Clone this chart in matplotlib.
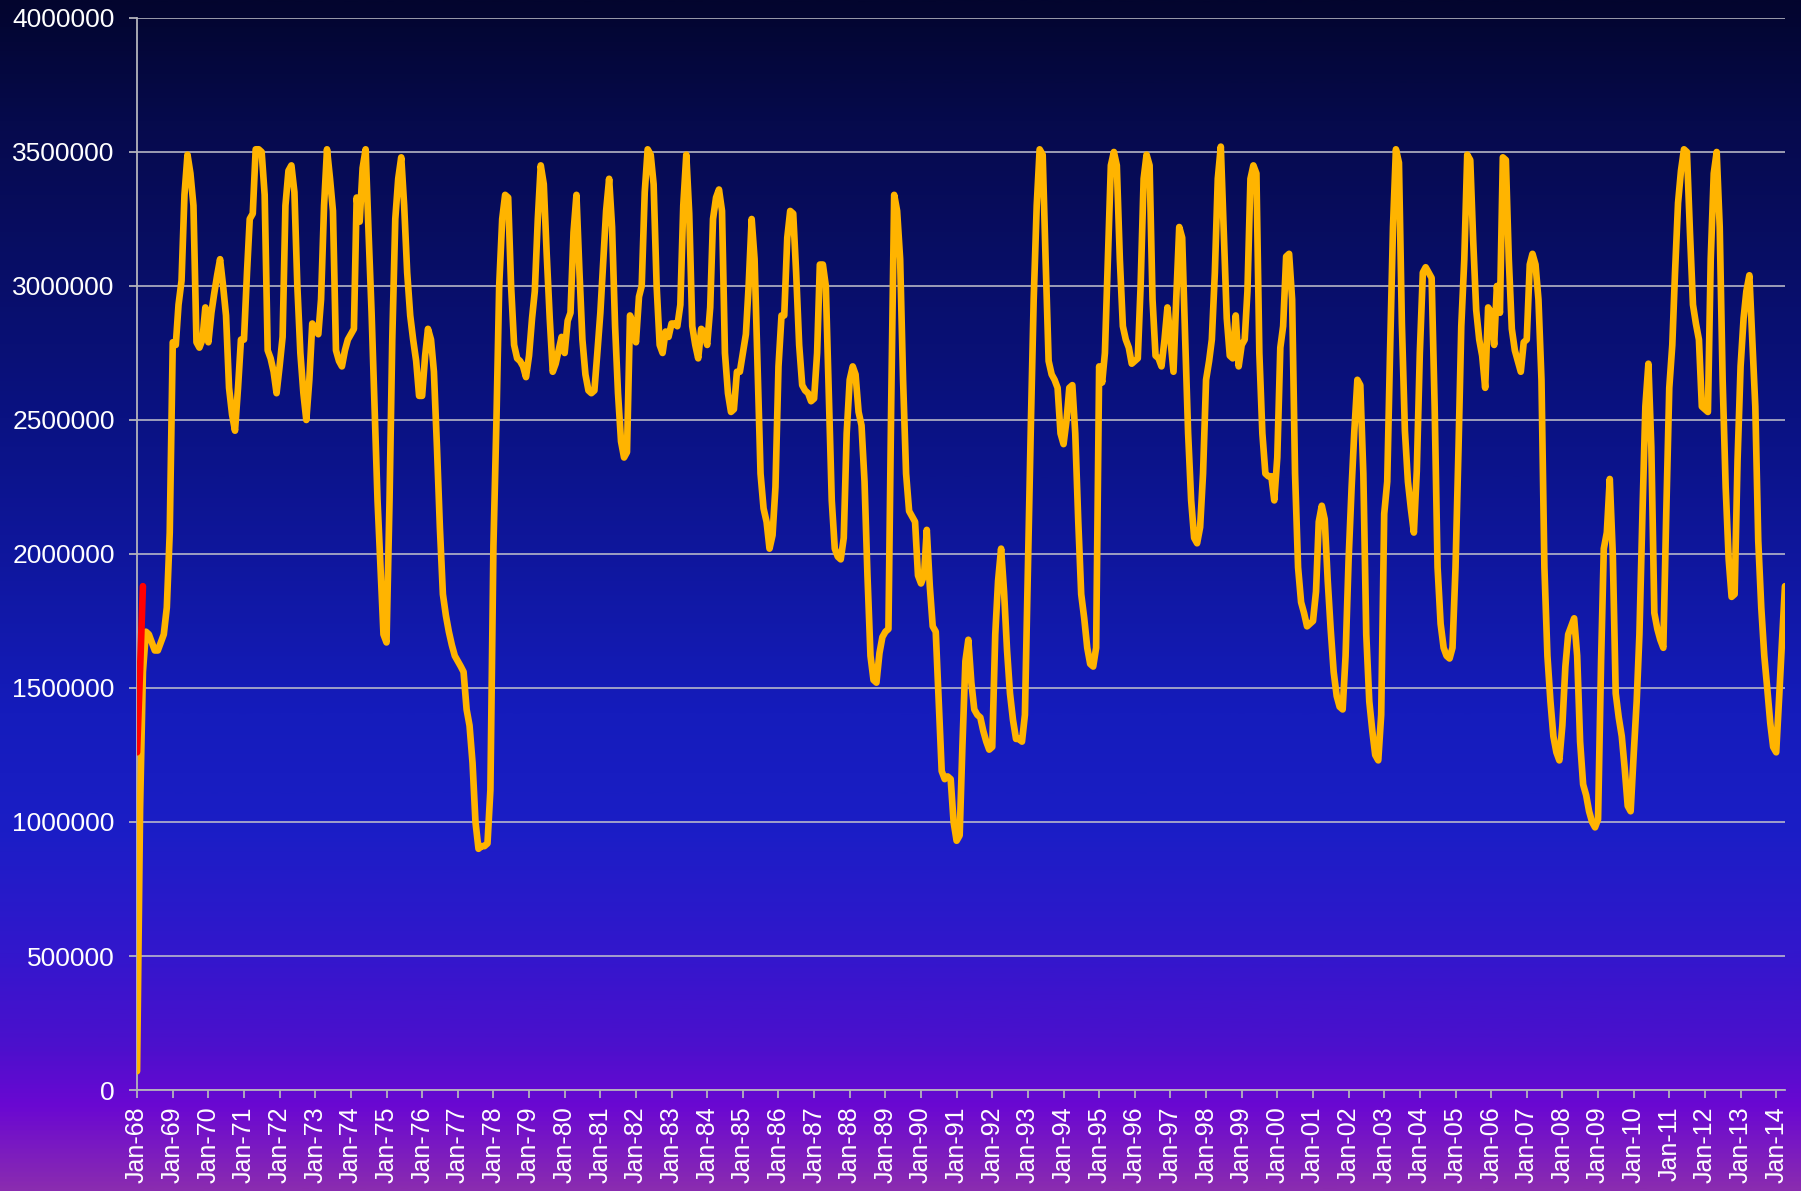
import matplotlib
matplotlib.use("Agg")
import matplotlib.pyplot as plt
import matplotlib.dates as mdates
from matplotlib.colors import LinearSegmentedColormap
from matplotlib.ticker import MultipleLocator, FuncFormatter
import numpy as np
import pandas as pd

# ---- monthly values in thousands (Jan-68 .. Apr-14) ----
vals_1968_1977 = [
    70, 1050, 1560, 1710, 1700, 1670, 1640, 1640, 1670, 1700, 1800, 2080,   # 68
    2790, 2780, 2930, 3020, 3340, 3490, 3420, 3300, 2790, 2770, 2800, 2920,  # 69
    2790, 2900, 2970, 3040, 3100, 3000, 2890, 2620, 2520, 2460, 2620, 2800,  # 70
    2800, 3050, 3250, 3270, 3510, 3510, 3500, 3340, 2760, 2730, 2680, 2600,  # 71
    2700, 2810, 3300, 3430, 3450, 3350, 3000, 2750, 2600, 2500, 2650, 2860,  # 72
    2840, 2820, 2950, 3300, 3510, 3400, 3280, 2760, 2720, 2700, 2760, 2800,  # 73
    2820, 2840, 3330, 3240, 3440, 3510, 3200, 2900, 2550, 2200, 1950, 1700,  # 74
    1670, 2200, 2800, 3250, 3400, 3480, 3300, 3050, 2890, 2800, 2720, 2590,  # 75
    2590, 2740, 2840, 2800, 2680, 2400, 2100, 1850, 1770, 1710, 1660, 1620,  # 76
    1600, 1580, 1560, 1420, 1360, 1220, 1000, 900, 910, 910, 920, 1120,      # 77
]
vals_1978_1987 = [
    2030, 2500, 3000, 3250, 3340, 3330, 3000, 2780, 2730, 2720, 2700, 2660,  # 78
    2740, 2880, 2980, 3250, 3450, 3380, 3120, 2880, 2680, 2710, 2760, 2810,  # 79
    2750, 2870, 2900, 3200, 3340, 3050, 2800, 2670, 2610, 2600, 2610, 2750,  # 80
    2900, 3100, 3280, 3400, 3220, 2850, 2600, 2420, 2360, 2380, 2890, 2860,  # 81
    2790, 2960, 3000, 3350, 3510, 3490, 3380, 3000, 2780, 2750, 2830, 2810,  # 82
    2860, 2860, 2850, 2930, 3300, 3490, 3270, 2850, 2780, 2730, 2840, 2830,  # 83
    2780, 2920, 3250, 3330, 3360, 3280, 2750, 2600, 2530, 2540, 2680, 2680,  # 84
    2750, 2820, 3000, 3250, 3100, 2700, 2300, 2170, 2120, 2020, 2070, 2250,  # 85
    2700, 2890, 2890, 3180, 3280, 3270, 3050, 2780, 2630, 2610, 2600, 2570,  # 86
    2580, 2750, 3080, 3080, 3000, 2600, 2200, 2020, 1990, 1980, 2060, 2450,  # 87
]
vals_1988_1997 = [
    2650, 2700, 2670, 2530, 2480, 2270, 1920, 1620, 1530, 1520, 1630, 1690,  # 88
    1710, 1720, 2550, 3340, 3280, 3100, 2650, 2300, 2160, 2140, 2120, 1920,  # 89
    1890, 1920, 2090, 1880, 1730, 1710, 1450, 1190, 1160, 1170, 1160, 1000,  # 90
    930, 950, 1280, 1600, 1680, 1520, 1420, 1400, 1390, 1340, 1300, 1270,    # 91
    1280, 1700, 1900, 2020, 1860, 1640, 1480, 1380, 1310, 1310, 1300, 1400,  # 92
    1950, 2500, 2950, 3300, 3510, 3490, 3100, 2720, 2670, 2650, 2620, 2450,  # 93
    2410, 2500, 2620, 2630, 2450, 2120, 1850, 1760, 1650, 1590, 1580, 1650,  # 94
    2700, 2640, 2750, 3100, 3450, 3500, 3450, 3100, 2850, 2800, 2770, 2710,  # 95
    2720, 2730, 3000, 3400, 3490, 3450, 2950, 2740, 2730, 2700, 2800, 2920,  # 96
    2800, 2680, 2950, 3220, 3180, 2800, 2450, 2200, 2060, 2040, 2100, 2300,  # 97
]
vals_1998_2007 = [
    2650, 2720, 2800, 3050, 3400, 3520, 3200, 2880, 2740, 2730, 2890, 2700,  # 98
    2780, 2800, 2980, 3400, 3450, 3420, 2750, 2450, 2300, 2290, 2290, 2200,  # 99
    2360, 2770, 2850, 3110, 3120, 2950, 2300, 1950, 1820, 1780, 1730, 1740,  # 00
    1750, 1860, 2120, 2180, 2130, 1900, 1720, 1560, 1470, 1430, 1420, 1620,  # 01
    1980, 2250, 2460, 2650, 2630, 2300, 1700, 1450, 1340, 1250, 1230, 1400,  # 02
    2150, 2270, 2740, 3220, 3510, 3460, 2860, 2460, 2270, 2170, 2080, 2310,  # 03
    2750, 3050, 3070, 3050, 3030, 2550, 1950, 1740, 1650, 1620, 1610, 1650,  # 04
    1950, 2400, 2850, 3100, 3490, 3470, 3170, 2910, 2800, 2740, 2620, 2920,  # 05
    2900, 2780, 3000, 2900, 3480, 3470, 3100, 2840, 2760, 2720, 2680, 2790,  # 06
    2800, 3080, 3120, 3080, 2950, 2650, 1950, 1620, 1450, 1320, 1260, 1230,  # 07
]
vals_2008_2014 = [
    1360, 1580, 1700, 1730, 1760, 1620, 1300, 1140, 1100, 1040, 1000, 980,   # 08
    1010, 1600, 2020, 2080, 2280, 2000, 1480, 1390, 1320, 1200, 1060, 1040,  # 09
    1250, 1450, 1700, 2150, 2550, 2710, 2400, 1780, 1720, 1680, 1650, 2150,  # 10
    2620, 2780, 3050, 3310, 3430, 3510, 3500, 3200, 2930, 2860, 2800, 2550,  # 11
    2540, 2530, 3100, 3420, 3500, 3220, 2650, 2250, 1980, 1840, 1850, 2350,  # 12
    2700, 2880, 2980, 3040, 2800, 2550, 2050, 1800, 1620, 1500, 1370, 1280,  # 13
    1260, 1470, 1670, 1880,                                                  # 14
]
# short red series drawn over the first months
red_vals = [1260, 1570, 1880]

orange = np.array(vals_1968_1977 + vals_1978_1987 + vals_1988_1997
                  + vals_1998_2007 + vals_2008_2014) * 1000
dates = pd.date_range("1968-01-01", periods=len(orange), freq="MS")
red = np.array(red_vals) * 1000
red_dates = dates[:len(red)]

plt.rcParams['font.family'] = ['Liberation Sans', 'DejaVu Sans']

fig = plt.figure(figsize=(18.01, 11.91), dpi=100)

# ---- gradient background (whole figure) ----
bg = fig.add_axes([0, 0, 1, 1], zorder=-10)
stops = [(0.00, "#03052e"), (0.10, "#060a4c"), (0.35, "#0a1282"),
         (0.60, "#151cbc"), (0.70, "#1b1ec6"), (0.80, "#3217cc"),
         (0.88, "#4c10cc"), (0.93, "#6a08d2"), (1.00, "#8a2cb0")]
cmap = LinearSegmentedColormap.from_list("bg", stops)
grad = np.linspace(0, 1, 512).reshape(-1, 1)
bg.imshow(grad, cmap=cmap, aspect="auto", extent=[0, 1, 0, 1], origin="upper")
bg.axis("off")

# ---- main chart ----
ax = fig.add_axes([0.0761, 0.0848, 0.9150, 0.9001])
ax.set_facecolor("none")

ax.plot(dates, orange, color="#ffb400", lw=4.8, solid_capstyle="round",
        solid_joinstyle="round", zorder=3)
ax.plot(red_dates, red, color="#ff0000", lw=4.8, solid_capstyle="round",
        solid_joinstyle="round", zorder=4)

ax.set_ylim(0, 4000000)
ax.set_xlim(dates[0], dates[-1])
ax.yaxis.set_major_locator(MultipleLocator(500000))
ax.yaxis.set_major_formatter(FuncFormatter(lambda v, p: "%d" % v))
ax.xaxis.set_major_locator(mdates.YearLocator(1, month=1, day=1))
ax.xaxis.set_major_formatter(mdates.DateFormatter("%b-%y"))

ax.grid(axis="y", color="#c4c4cc", lw=1.1, zorder=1)
ax.set_axisbelow(True)
for s in ["top", "right"]:
    ax.spines[s].set_visible(False)
for s in ["left", "bottom"]:
    ax.spines[s].set_color("#b4b4bc")
    ax.spines[s].set_linewidth(1.3)

ax.tick_params(axis="y", colors="#b4b4bc", labelcolor="white", labelsize=19,
               length=6, width=1.3, pad=10)
ax.tick_params(axis="x", colors="#b4b4bc", labelcolor="white", labelsize=18,
               length=6, width=1.3, pad=6, labelrotation=90)

fig.savefig("out.png", dpi=100)
